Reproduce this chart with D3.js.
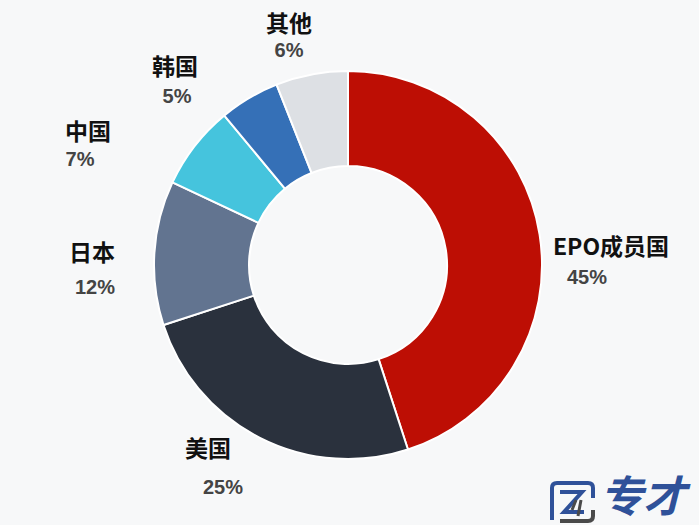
<!DOCTYPE html>
<html><head><meta charset="utf-8">
<script src="https://cdn.jsdelivr.net/npm/d3@7"></script>
<style>
html,body{margin:0;padding:0;background:#f7f8f9;}
svg{display:block;}
</style></head>
<body>
<svg id="c" width="699" height="525"></svg>
<script>
const categories = ["EPO成员国", "美国", "日本", "中国", "韩国", "其他"];
const values = [45, 25, 12, 7, 5, 6];
const percentLabels = ["45%", "25%", "12%", "7%", "5%", "6%"];
const colors = ["#bd0e04", "#2a313d", "#627490", "#45c4dd", "#3570b7", "#dde0e4"];

// label placement (name centre, value centre) relative to chart centre
const labelLayout = [
  {nx: 263, ny: -20, vx: 239, vy: 12},
  {nx: -140, ny: 182, vx: -125, vy: 222},
  {nx: -256, ny: -14, vx: -253, vy: 22},
  {nx: -260, ny: -135, vx: -268, vy: -106},
  {nx: -173, ny: -200, vx: -171, vy: -169},
  {nx: -59, ny: -243, vx: -59, vy: -215}
];

const svg = d3.select("#c");
const cx = 348, cy = 265, R = 194, r0 = 99;
const g = svg.append("g").attr("transform", `translate(${cx},${cy})`);

const pie = d3.pie().sort(null).value(d => d.v);
const arcs = pie(values.map((v, i) => ({v, i})));
const arc = d3.arc().innerRadius(r0).outerRadius(R);

g.selectAll("path.slice").data(arcs).join("path")
  .attr("class", "slice")
  .attr("d", arc)
  .attr("fill", d => colors[d.data.i])
  .attr("stroke", "#ffffff")
  .attr("stroke-width", 2)
  .attr("stroke-linejoin", "round");

const lab = g.selectAll("g.lab").data(arcs).join("g").attr("class", "lab");
lab.append("text")
  .attr("x", d => labelLayout[d.data.i].nx)
  .attr("y", d => labelLayout[d.data.i].ny)
  .attr("text-anchor", "middle")
  .attr("dominant-baseline", "central")
  .attr("font-family", "'Noto Sans CJK SC', 'Noto Sans', sans-serif")
  .attr("font-weight", "bold")
  .attr("font-size", 23)
  .attr("fill", "#111")
  .text(d => categories[d.data.i]);
lab.append("text")
  .attr("x", d => labelLayout[d.data.i].vx)
  .attr("y", d => labelLayout[d.data.i].vy)
  .attr("text-anchor", "middle")
  .attr("dominant-baseline", "central")
  .attr("font-family", "'Liberation Sans', Arial, sans-serif")
  .attr("font-weight", "bold")
  .attr("font-size", 20)
  .attr("fill", "#444")
  .text(d => percentLabels[d.data.i]);

// logo
const logo = svg.append("g").attr("transform", "translate(548,480)");
logo.append("path")
  .attr("d", "M4,40 L4,8 Q4,3 9,3 L40,3 Q45,3 45,8 L45,18")
  .attr("fill", "none").attr("stroke", "#2f5199").attr("stroke-width", 4);
logo.append("path")
  .attr("d", "M45,30 L45,36 Q45,41 40,41 L12,41")
  .attr("fill", "none").attr("stroke", "#4a4a4a").attr("stroke-width", 4);
logo.append("path")
  .attr("d", "M12,12 L34,12 L16,32 L36,32")
  .attr("fill", "none").attr("stroke", "#2f5199").attr("stroke-width", 4);
logo.append("path")
  .attr("d", "M28,20 L24,30 M33,20 L30,36")
  .attr("fill", "none").attr("stroke", "#4a4a4a").attr("stroke-width", 3);
svg.append("text")
  .attr("x", 600).attr("y", 512)
  .attr("font-family", "'Noto Sans CJK SC', sans-serif")
  .attr("font-weight", "bold")
  .attr("font-style", "italic")
  .attr("font-size", 43)
  .attr("fill", "#2f5199")
  .text("专才");
</script>
</body></html>
